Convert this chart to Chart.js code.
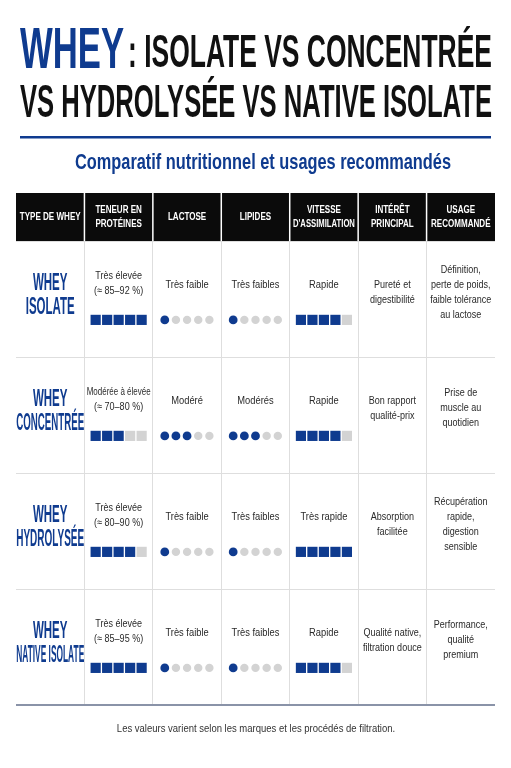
<!DOCTYPE html>
<html><head><meta charset="utf-8">
<script src="https://cdn.jsdelivr.net/npm/chart.js@4"></script>
<style>html,body{margin:0;padding:0;background:#fff}#w{width:511px;height:768px}</style>
</head><body><div id="w"><canvas id="c"></canvas></div>
<script>
const headers = [["TYPE DE WHEY"],["TENEUR EN","PROTÉINES"],["LACTOSE"],["LIPIDES"],["VITESSE","D'ASSIMILATION"],["INTÉRÊT","PRINCIPAL"],["USAGE","RECOMMANDÉ"]];
const types = [["WHEY","ISOLATE"],["WHEY","CONCENTRÉE"],["WHEY","HYDROLYSÉE"],["WHEY","NATIVE ISOLATE"]];
const proteinText = [["Très élevée","(≈ 85–92 %)"],["Modérée à élevée","(≈ 70–80 %)"],["Très élevée","(≈ 80–90 %)"],["Très élevée","(≈ 85–95 %)"]];
const lactoseText = ["Très faible","Modéré","Très faible","Très faible"];
const lipidText = ["Très faibles","Modérés","Très faibles","Très faibles"];
const speedText = ["Rapide","Rapide","Très rapide","Rapide"];
const interest = [["Pureté et","digestibilité"],["Bon rapport","qualité-prix"],["Absorption","facilitée"],["Qualité native,","filtration douce"]];
const usage = [["Définition,","perte de poids,","faible tolérance","au lactose"],["Prise de","muscle au","quotidien"],["Récupération","rapide,","digestion","sensible"],["Performance,","qualité","premium"]];
const proteinScore = [5,3,4,5];
const lactoseScore = [1,3,1,1];
const lipidScore = [1,3,1,1];
const speedScore = [4,4,5,4];

const BLUE = '#0f3b8f', GRAY = '#d3d3d3';
const SQ = 0.168, DT = 0.163;
function pts(scores, col, on, step){
  const out=[];
  scores.forEach((s,r)=>{for(let k=0;k<5;k++){ if((k<s)===on) out.push({x:col+0.5+(k-2)*step,y:r+0.68}); }});
  return out;
}
const datasets = [
  {data:pts(proteinScore,1,true,SQ),pointStyle:'rect',radius:7.2,backgroundColor:BLUE},
  {data:pts(proteinScore,1,false,SQ),pointStyle:'rect',radius:7.2,backgroundColor:GRAY},
  {data:pts(speedScore,4,true,SQ),pointStyle:'rect',radius:7.2,backgroundColor:BLUE},
  {data:pts(speedScore,4,false,SQ),pointStyle:'rect',radius:7.2,backgroundColor:GRAY},
  {data:pts(lactoseScore,2,true,DT),pointStyle:'circle',radius:4.4,backgroundColor:BLUE},
  {data:pts(lactoseScore,2,false,DT),pointStyle:'circle',radius:4.2,backgroundColor:GRAY},
  {data:pts(lipidScore,3,true,DT),pointStyle:'circle',radius:4.4,backgroundColor:BLUE},
  {data:pts(lipidScore,3,false,DT),pointStyle:'circle',radius:4.2,backgroundColor:GRAY},
].map(d=>Object.assign(d,{borderWidth:0,pointRadius:d.radius,pointHoverRadius:d.radius,pointBackgroundColor:d.backgroundColor,pointBorderWidth:0}));

function txt(ctx,s,x,y,font,color,sx,align){
  ctx.save();ctx.font=font;ctx.fillStyle=color;ctx.textBaseline='middle';
  ctx.translate(x,y);ctx.scale(sx,1);ctx.textAlign=align||'center';ctx.fillText(s,0,0);ctx.restore();
}
function fit(ctx,s,x,y,font,color,w,align){
  ctx.save();ctx.font=font;const m=ctx.measureText(s).width;ctx.restore();
  txt(ctx,s,x,y,font,color,w/m,align);
}
function capped(ctx,s,x,y,font,color,sx,maxw){
  ctx.save();ctx.font=font;const m=ctx.measureText(s).width;ctx.restore();
  txt(ctx,s,x,y,font,color,Math.min(sx,maxw/m));
}
const deco = {id:'deco',
  beforeDatasetsDraw(chart){
    const ctx=chart.ctx, xs=chart.scales.x, ys=chart.scales.y;
    const F='"Liberation Sans", Arial, sans-serif';
    fit(ctx,'WHEY',20,52,'bold 58px '+F,BLUE,104,'left');
    fit(ctx,': ISOLATE VS CONCENTRÉE',128,54,'bold 46px '+F,'#111',364,'left');
    fit(ctx,'VS HYDROLYSÉE VS NATIVE ISOLATE',20,104,'bold 46px '+F,'#111',472,'left');
    ctx.fillStyle=BLUE;ctx.fillRect(20,136,471,2.5);
    fit(ctx,'Comparatif nutritionnel et usages recommandés',75,163,'bold 22px '+F,BLUE,376,'left');
    const top=193, bot=ys.getPixelForValue(0);
    ctx.fillStyle='#0b0b0b';ctx.fillRect(xs.left,top,xs.right-xs.left,bot-top);
    ctx.fillStyle='#fff';
    for(let i=1;i<7;i++){ctx.fillRect(xs.getPixelForValue(i)-0.75,top,1.5,bot-top);}
    headers.forEach((h,i)=>{
      const cx=xs.getPixelForValue(i+0.5), cy=(top+bot)/2;
      h.forEach((l,j)=>capped(ctx,l,cx,cy+(j-(h.length-1)/2)*14,'bold 11.5px '+F,'#fff',0.7,62));
    });
    const cell='11px '+F, cc='#2a2a2a';
    const lines=(arr,col,r,c,lh,sx)=>{const cx=xs.getPixelForValue(col+0.5);
      arr.forEach((l,j)=>capped(ctx,l,cx,ys.getPixelForValue(r+c)+(j-(arr.length-1)/2)*lh,cell,cc,sx,64));};
    types.forEach((t,r)=>{
      const cx=xs.getPixelForValue(0.5);
      t.forEach((l,j)=>capped(ctx,l,cx,ys.getPixelForValue(r+0.47)+(j-0.5)*24,'bold 23px '+F,BLUE,0.5,68));
    });
    for(let r=0;r<4;r++){
      lines(proteinText[r],1,r,0.37,15,0.82);
      lines([lactoseText[r]],2,r,0.38,15,0.85);
      lines([lipidText[r]],3,r,0.38,15,0.85);
      lines([speedText[r]],4,r,0.38,15,0.85);
      lines(interest[r],5,r,0.44,15,0.82);
      lines(usage[r],6,r,0.44,15,0.82);
    }
    ctx.fillStyle='#8a93a8';ctx.fillRect(xs.left,ys.getPixelForValue(4)-1,xs.right-xs.left,2);
    txt(ctx,'Les valeurs varient selon les marques et les procédés de filtration.',256,729,'10px '+F,'#333',0.95);
  }
};
const gridColor = c => (c.index===0 || c.index===c.chart.scales.x.ticks.length-1 && c.scale.axis==='x') ? 'rgba(0,0,0,0)' : '#dedede';
new Chart(document.getElementById('c'),{
  type:'scatter',
  data:{datasets},
  options:{responsive:true,maintainAspectRatio:false,animation:false,
    layout:{padding:{left:16,right:16,top:241,bottom:63}},
    plugins:{legend:{display:false},tooltip:{enabled:false}},
    scales:{
      x:{type:'linear',min:0,max:7,ticks:{display:false,stepSize:1},border:{display:false},grid:{color:gridColor,lineWidth:1,drawTicks:false}},
      y:{type:'linear',min:0,max:4,reverse:true,ticks:{display:false,stepSize:1},border:{display:false},grid:{color:'#dedede',lineWidth:1,drawTicks:false}}
    }
  },
  plugins:[deco]
});
</script></body></html>
